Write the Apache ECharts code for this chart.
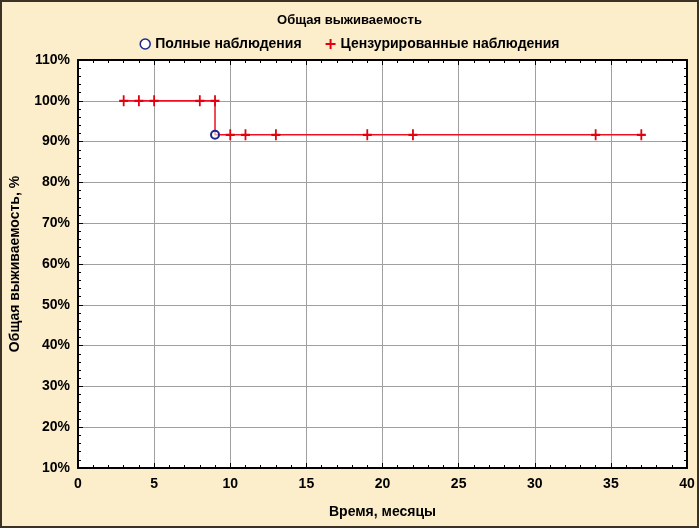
<!DOCTYPE html>
<html><head><meta charset="utf-8">
<script src="https://cdn.jsdelivr.net/npm/echarts@6/dist/echarts.min.js"></script>
<style>html,body{margin:0;padding:0;background:#fcedcb}#c{width:699px;height:528px}</style>
</head><body><div id="c"></div>
<script>
// Data
const titleText = 'Общая выживаемость';
const seriesNames = ['Полные наблюдения', 'Цензурированные наблюдения'];
const xTicks = [0, 5, 10, 15, 20, 25, 30, 35, 40];
const yTicks = [10, 20, 30, 40, 50, 60, 70, 80, 90, 100, 110];
const kmTimes = [3, 9, 9, 37];
const kmSurv = [100, 100, 91.67, 91.67];
const eventTimes = [9];
const eventSurv = [91.67];
const censTimes = [3, 4, 5, 8, 9, 10, 11, 13, 19, 22, 34, 37];
const censSurv = [100, 100, 100, 100, 100, 91.67, 91.67, 91.67, 91.67, 91.67, 91.67, 91.67];

const FONT = '"Liberation Sans Narrow", "Arial Narrow", "Liberation Sans", Arial, sans-serif';
const plusPath = 'path://M4,0H6V4H10V6H6V10H4V6H0V4H4Z';

const chart = echarts.init(document.getElementById('c'));
const axisCommon = {
  axisLine: {show: true, onZero: false, lineStyle: {color: '#000', width: 2}},
  axisTick: {show: true, inside: true, length: 5, lineStyle: {color: '#000', width: 1}},
  minorTick: {show: true, splitNumber: 5, length: 3, lineStyle: {color: '#000'}}
};
chart.setOption({
  backgroundColor: '#fcedcb',
  animation: false,
  textStyle: {fontFamily: FONT},
  title: {text: titleText, left: 'center', top: 9,
    textStyle: {fontFamily: FONT, fontWeight: 'bold', fontSize: 13, color: '#000'}},
  legend: {top: 32, left: 'center', itemGap: 24, itemWidth: 10, itemHeight: 10,
    textStyle: {fontFamily: FONT, fontWeight: 'bold', fontSize: 14, color: '#000'},
    data: [
      {name: seriesNames[0], icon: 'circle', itemStyle: {color: '#fff', borderColor: '#1a2a8c', borderWidth: 1.5}},
      {name: seriesNames[1], icon: plusPath, itemStyle: {color: '#e3000f'}}
    ]},
  graphic: [{type: 'rect', shape: {x: 1, y: 1, width: 697, height: 526},
    style: {fill: 'none', stroke: '#3b3225', lineWidth: 2}, silent: true}],
  grid: {left: 77, right: 12, top: 60, bottom: 60, show: true, backgroundColor: '#fff', borderWidth: 0},
  xAxis: [
    Object.assign({type: 'value', min: xTicks[0], max: xTicks[xTicks.length - 1], interval: 5,
      name: 'Время, месяцы', nameLocation: 'middle', nameGap: 37,
      nameTextStyle: {fontFamily: FONT, fontWeight: 'bold', fontSize: 14, color: '#000'},
      axisLabel: {margin: 9, fontFamily: FONT, fontWeight: 'bold', fontSize: 14, color: '#000'},
      splitLine: {show: true, lineStyle: {color: '#a0a0a0', width: 1}}}, axisCommon),
    Object.assign({type: 'value', position: 'top', min: xTicks[0], max: xTicks[xTicks.length - 1], interval: 5,
      axisLabel: {show: false}, splitLine: {show: false}}, axisCommon)
  ],
  yAxis: [
    Object.assign({type: 'value', min: yTicks[0], max: yTicks[yTicks.length - 1], interval: 10,
      name: 'Общая выживаемость, %', nameLocation: 'middle', nameGap: 56,
      nameTextStyle: {fontFamily: FONT, fontWeight: 'bold', fontSize: 14, color: '#000'},
      axisLabel: {margin: 8, formatter: '{value}%', fontFamily: FONT, fontWeight: 'bold', fontSize: 14, color: '#000'},
      splitLine: {show: true, lineStyle: {color: '#a0a0a0', width: 1}}}, axisCommon),
    Object.assign({type: 'value', position: 'right', min: yTicks[0], max: yTicks[yTicks.length - 1], interval: 10,
      axisLabel: {show: false}, splitLine: {show: false}}, axisCommon)
  ],
  series: [
    {name: 'km', type: 'line', data: kmTimes.map((t, i) => [t, kmSurv[i]]), symbol: 'none',
      lineStyle: {color: '#ee1020', width: 1.5}, z: 2, silent: true},
    {name: seriesNames[1], type: 'scatter', data: censTimes.map((t, i) => [t, censSurv[i]]),
      symbol: plusPath, symbolSize: [9, 11], itemStyle: {color: '#e3000f', opacity: 1}, z: 3},
    {name: seriesNames[0], type: 'scatter', data: eventTimes.map((t, i) => [t, eventSurv[i]]),
      symbol: 'circle', symbolSize: 8,
      itemStyle: {color: 'rgba(255,255,255,0.6)', borderColor: '#1a2a8c', borderWidth: 2, opacity: 1}, z: 4}
  ]
});
</script></body></html>
